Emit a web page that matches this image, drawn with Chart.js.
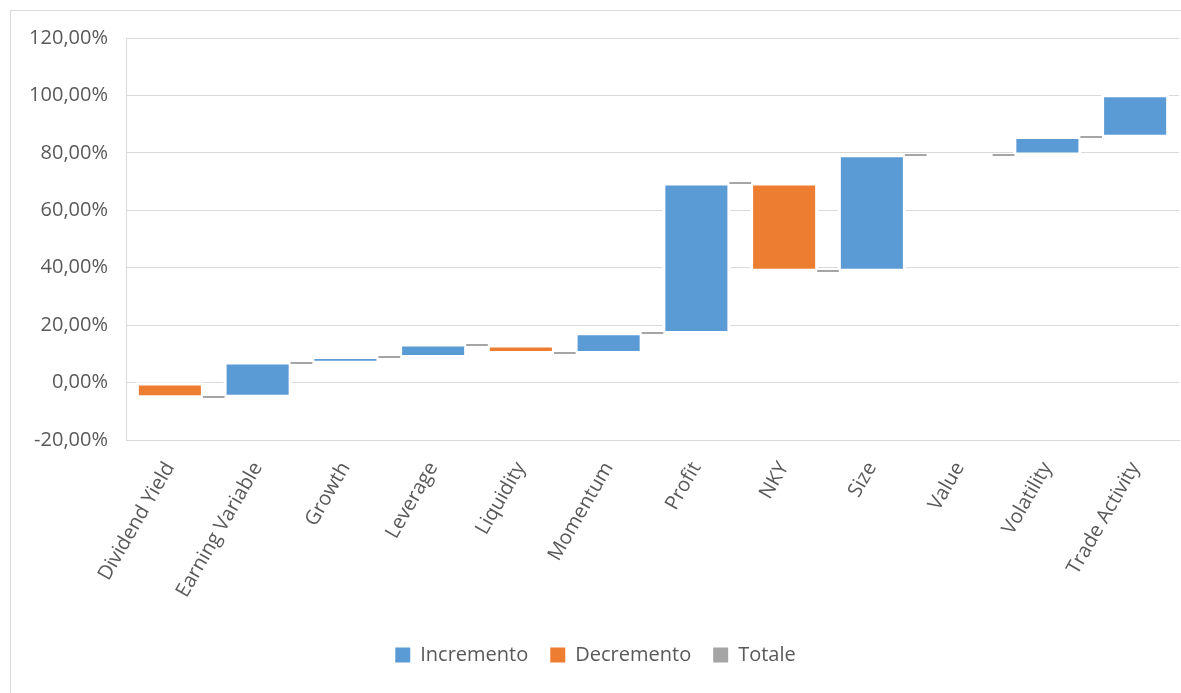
<!DOCTYPE html>
<html>
<head>
<meta charset="utf-8">
<script src="https://cdn.jsdelivr.net/npm/chart.js@4/dist/chart.umd.min.js"></script>
<style>
  html, body { margin: 0; padding: 0; background: #ffffff; }
  #frame { position: absolute; left: 10px; top: 10px; width: 1200px; height: 720px; border: 1px solid #d9d9d9; box-sizing: border-box; }
  #wrap { position: absolute; left: 0; top: 0; width: 1181px; height: 693px; }
</style>
</head>
<body>
<div id="frame"></div>
<div id="wrap"><canvas id="c"></canvas></div>
<script>
// ---- data (percent) ----
const categories = ["Dividend Yield", "Earning Variable", "Growth", "Leverage", "Liquidity", "Momentum", "Profit", "NKY", "Size", "Value", "Volatility", "Trade Activity"];
const incremento = [null, [-4.2, 6.3], [7.6, 8.2], [9.6, 12.6], null, [11.0, 16.5], [18.0, 68.6], null, [39.6, 78.5], null, [80.1, 84.8], [86.3, 99.4]];
const decremento = [[-4.4, -1.0], null, null, null, [11.0, 12.2], null, null, [39.6, 68.6], null, null, null, null];
const totale = [null, null, null, null, null, null, null, null, null, null, null, null];
// connector levels between category i and i+1
const connectors = [-5.0, 6.8, 8.9, 13.1, 10.3, 17.3, 69.4, 38.7, 79.3, 79.3, 85.5];
const yTicks = [-20, 0, 20, 40, 60, 80, 100, 120];

const BLUE = "#5b9bd5", ORANGE = "#ed7d31", GRAY = "#a5a5a5", TEXT = "#595959", GRID = "#d9d9d9";
const FONT = "'Open Sans', 'Noto Sans', sans-serif";
const FS = 20;
const CAT_PCT = 0.707;

const haloPlugin = {
  id: "halo",
  beforeDatasetsDraw(chart) {
    const ctx = chart.ctx;
    ctx.save();
    ctx.fillStyle = "#ffffff";
    chart.data.datasets.forEach((d, di) => {
      const meta = chart.getDatasetMeta(di);
      meta.data.forEach((el, i) => {
        if (d.data[i] == null) return;
        const { x, y, base, width } = el.getProps(["x", "y", "base", "width"], true);
        const top = Math.min(y, base), bot = Math.max(y, base);
        ctx.fillRect(x - width / 2 - 3, top - 3, width + 6, bot - top + 6);
      });
    });
    ctx.restore();
  }
};

const connectorPlugin = {
  id: "connectors",
  afterDatasetsDraw(chart) {
    const x = chart.scales.x, y = chart.scales.y, ctx = chart.ctx;
    ctx.save();
    ctx.strokeStyle = GRAY;
    ctx.lineWidth = 2;
    connectors.forEach((lvl, i) => {
      if (lvl === null) return;
      const x0 = x.getPixelForValue(i), x1 = x.getPixelForValue(i + 1);
      const half = (x1 - x0) * CAT_PCT / 2;
      const py = Math.round(y.getPixelForValue(lvl));
      ctx.beginPath();
      ctx.moveTo(x0 + half + 2, py);
      ctx.lineTo(x1 - half - 2, py);
      ctx.stroke();
    });
    ctx.restore();
  }
};

new Chart(document.getElementById("c"), {
  type: "bar",
  data: {
    labels: categories,
    datasets: [
      { label: "Incremento", data: incremento, backgroundColor: BLUE },
      { label: "Decremento", data: decremento, backgroundColor: ORANGE },
      { label: "Totale", data: totale, backgroundColor: GRAY }
    ]
  },
  options: {
    responsive: true,
    maintainAspectRatio: false,
    animation: false,
    layout: { padding: { top: 38, left: 12, right: 2, bottom: 18 } },
    datasets: { bar: { grouped: false, barPercentage: 1.0, categoryPercentage: CAT_PCT, borderWidth: 0 } },
    plugins: {
      tooltip: { enabled: false },
      legend: {
        position: "bottom",
        labels: {
          color: TEXT,
          font: { family: FONT, size: FS },
          boxWidth: 15, boxHeight: 15, padding: 22,
          generateLabels(chart) {
            return chart.data.datasets.map((d, i) => ({
              text: d.label, fillStyle: d.backgroundColor, strokeStyle: d.backgroundColor,
              lineWidth: 0, hidden: false, datasetIndex: i, fontColor: TEXT
            }));
          }
        }
      }
    },
    scales: {
      x: {
        grid: { display: false, drawTicks: false },
        border: { display: true, color: GRID, width: 1 },
        ticks: { color: TEXT, font: { family: FONT, size: FS }, minRotation: 60, maxRotation: 60, padding: 18, autoSkip: false },
        afterFit(scale) { scale.height = 183; }
      },
      y: {
        min: -20, max: 120,
        afterBuildTicks(scale) { scale.ticks = yTicks.map(v => ({ value: v })); },
        grid: { color: GRID, drawTicks: false, lineWidth: 1 },
        border: { display: true, color: GRID, width: 1 },
        ticks: {
          color: TEXT, font: { family: FONT, size: FS }, padding: 18,
          callback: v => v.toFixed(2).replace(".", ",") + "%"
        },
        afterFit(scale) { scale.width = 114; }
      }
    }
  },
  plugins: [haloPlugin, connectorPlugin]
});
</script>
</body>
</html>
